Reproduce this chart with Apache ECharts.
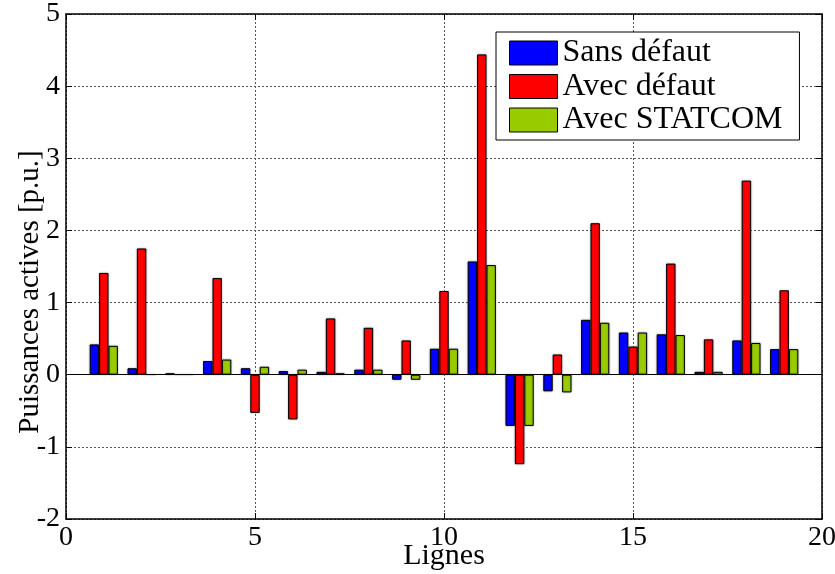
<!DOCTYPE html>
<html>
<head>
<meta charset="utf-8">
<script src="https://cdn.jsdelivr.net/npm/echarts@6/dist/echarts.min.js"></script>
<style>
html,body{margin:0;padding:0;background:#fff;}
#chart{width:835px;height:574px;}
</style>
</head>
<body>
<div id="chart"></div>
<script>
const lignes = [1,2,3,4,5,6,7,8,9,10,11,12,13,14,15,16,17,18,19];
const sansDefaut  = [0.42,0.09,0.02,0.19,0.09,0.05,0.04,0.07,-0.07,0.36,1.57,-0.71,-0.23,0.76,0.585,0.56,0.04,0.475,0.355];
const avecDefaut  = [1.41,1.75,0.005,1.34,-0.53,-0.62,0.78,0.65,0.475,1.16,4.44,-1.24,0.28,2.10,0.39,1.54,0.49,2.69,1.17];
const avecStatcom = [0.40,0.005,0.005,0.21,0.11,0.07,0.02,0.07,-0.07,0.36,1.52,-0.71,-0.245,0.72,0.585,0.55,0.04,0.44,0.355];
const xTicks = [0,5,10,15,20];
const yTicks = [-2,-1,0,1,2,3,4,5];
const seriesNames = ['Sans défaut','Avec défaut','Avec STATCOM'];
const colors = ['#0000ff','#ff0000','#99cc00'];

const FONT = 'Liberation Serif';
const chart = echarts.init(document.getElementById('chart'), null, {renderer:'canvas'});

function pairs(vals){ return lignes.map((x,i)=>[x, vals[i]]); }
const allVals = [sansDefaut, avecDefaut, avecStatcom];

const series = allVals.map((vals, k) => ({
  name: seriesNames[k],
  type: 'bar',
  data: pairs(vals),
  barWidth: 9.4,
  barGap: '0%',
  itemStyle: {
    color: colors[k],
    borderColor: '#000',
    borderWidth: 1,
    shadowColor: 'rgba(0,0,0,0.35)',
    shadowBlur: 2
  },
  emphasis: {disabled: true},
  animation: false,
  markLine: k === 0 ? {
    silent: true,
    symbol: 'none',
    label: {show: false},
    lineStyle: {color: '#000', type: 'solid', width: 1},
    data: [{yAxis: 0}]
  } : undefined
}));

const axisCommon = {
  axisLine: {show: true, onZero: false, lineStyle: {color: '#000', width: 1.5}},
  axisTick: {show: true, inside: true, length: 6, lineStyle: {color: '#000'}},
};

chart.setOption({
  backgroundColor: '#fff',
  animation: false,
  textStyle: {fontFamily: FONT},
  grid: {left: 66, right: 13, top: 14, bottom: 55, containLabel: false, outerBoundsMode: 'none'},
  legend: {
    orient: 'vertical',
    left: 496,
    top: 32,
    itemWidth: 48,
    itemHeight: 24,
    itemGap: 1.5,
    padding: [5, 17, 4, 13],
    backgroundColor: '#fff',
    borderColor: '#000',
    borderWidth: 1,
    icon: 'rect',
    itemStyle: {borderColor: '#000', borderWidth: 1},
    textStyle: {fontFamily: FONT, fontSize: 32, color: '#000', lineHeight: 30},
    data: seriesNames
  },
  xAxis: [
    Object.assign({
      type: 'value', min: 0, max: 20, interval: 5, position: 'bottom',
      name: 'Lignes', nameLocation: 'middle', nameGap: 22, nameMoveOverlap: false,
      nameTextStyle: {fontFamily: FONT, fontSize: 30, color: '#000', lineHeight: 30},
      axisLabel: {fontFamily: FONT, fontSize: 28, color: '#000', margin: 5,
        formatter: v => xTicks.includes(v) ? String(v) : ''},
      splitLine: {show: true, lineStyle: {color: '#555', type: [2,2], width: 1}}
    }, axisCommon),
    Object.assign({
      type: 'value', min: 0, max: 20, interval: 5, position: 'top',
      axisLabel: {show: false}, splitLine: {show: false}
    }, axisCommon)
  ],
  yAxis: [
    Object.assign({
      type: 'value', min: -2, max: 5, interval: 1, position: 'left',
      axisLabel: {fontFamily: FONT, fontSize: 28, color: '#000', margin: 6,
        formatter: v => yTicks.includes(v) ? String(v) : ''},
      splitLine: {show: true, lineStyle: {color: '#555', type: [2,2], width: 1}}
    }, axisCommon),
    Object.assign({
      type: 'value', min: -2, max: 5, interval: 1, position: 'right',
      axisLabel: {show: false}, splitLine: {show: false}
    }, axisCommon)
  ],
  graphic: [{
    type: 'text',
    x: 30, y: 292,
    rotation: Math.PI / 2,
    style: {
      text: 'Puissances actives [p.u.]',
      font: '29px "Liberation Serif"',
      fill: '#000',
      textAlign: 'center',
      textVerticalAlign: 'middle'
    }
  }],
  series: series
});
</script>
</body>
</html>
